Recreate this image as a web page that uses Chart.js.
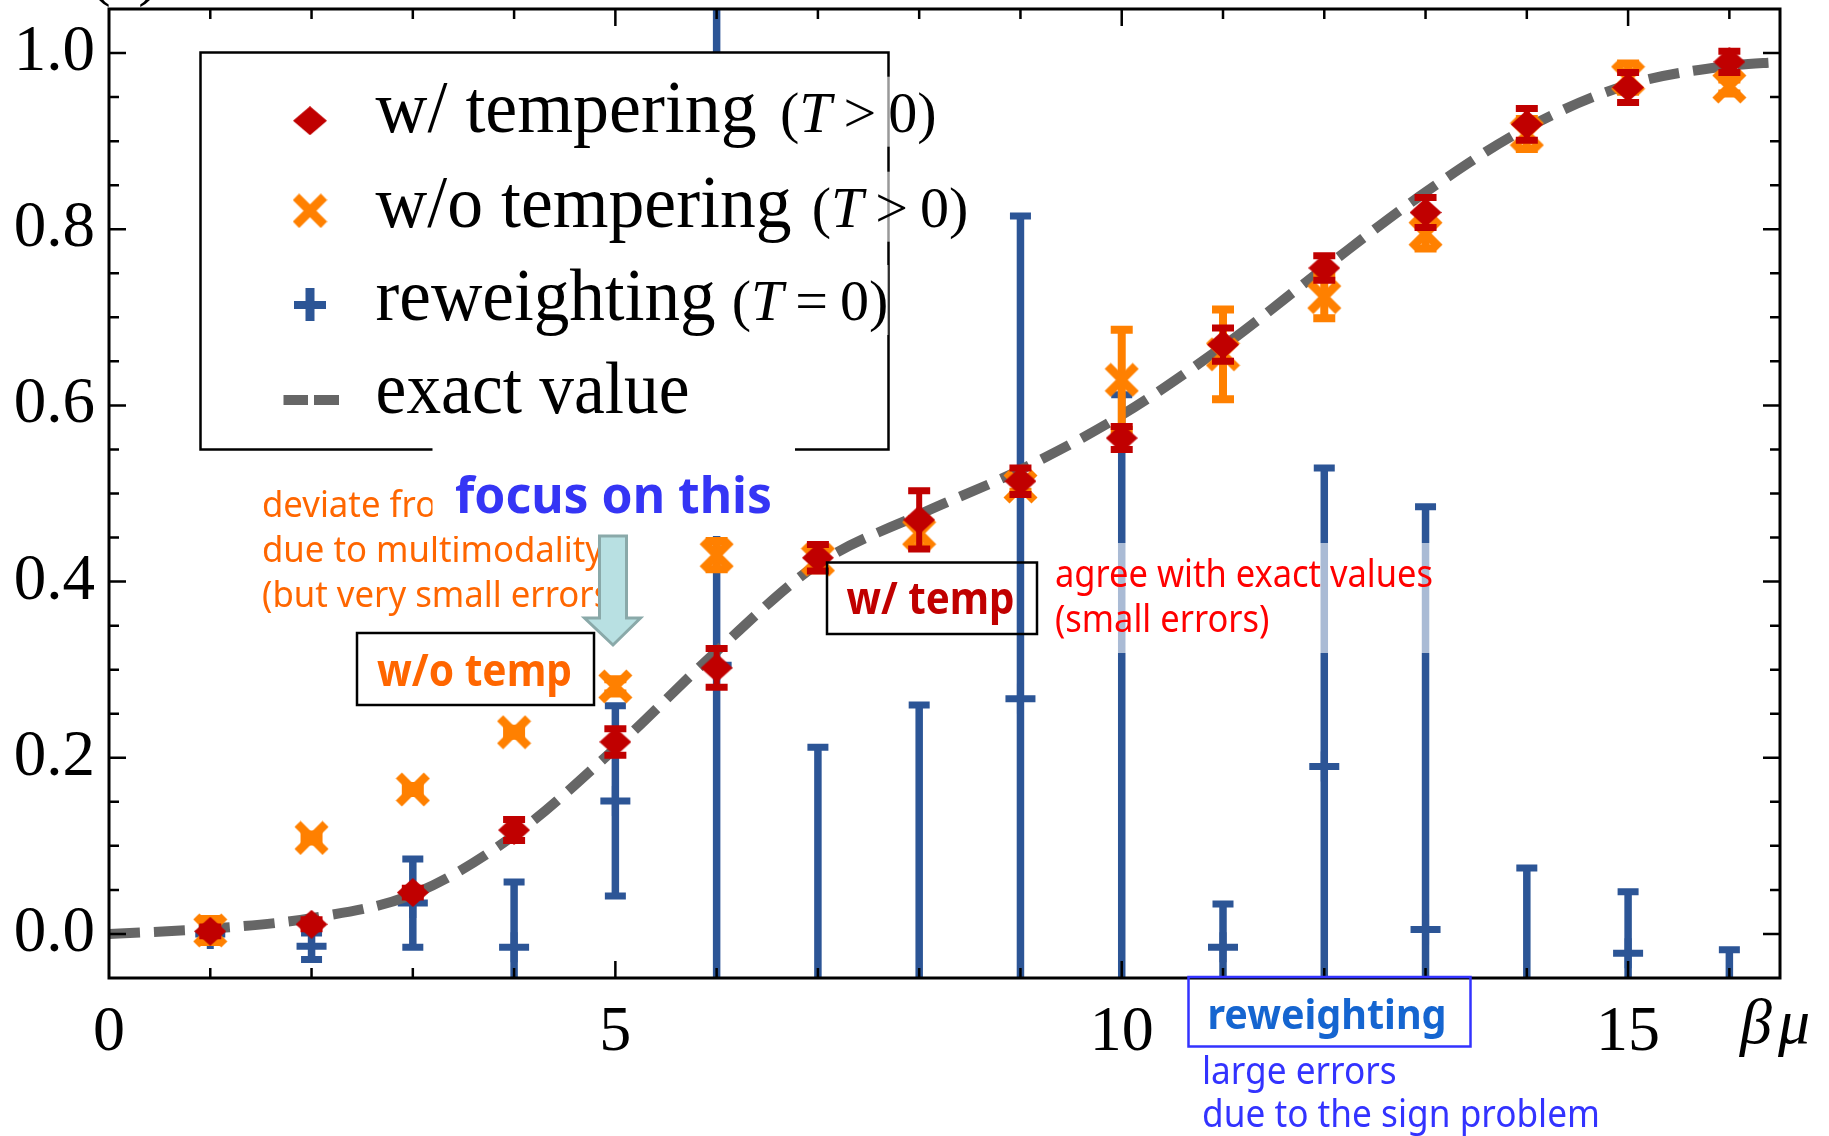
<!DOCTYPE html>
<html>
<head>
<meta charset="utf-8">
<title>Sign-problem benchmark</title>
<script src="https://cdn.jsdelivr.net/npm/chart.js@4.4.1/dist/chart.umd.min.js"></script>
<style>
  html, body { margin: 0; padding: 0; background: #ffffff; overflow: hidden; }
  #wrap { position: relative; width: 1829px; height: 1136px; }
</style>
</head>
<body>
<div id="wrap"><canvas id="chart" width="1829" height="1136"></canvas></div>
<script>
// ---- data -------------------------------------------------------------
const betaMu = [1, 2, 3, 4, 5, 6, 7, 8, 9, 10, 11, 12, 13, 14, 15, 16];

const withTempering    = [0.003, 0.011, 0.047, 0.118, 0.218, 0.302, 0.427, 0.470, 0.514, 0.563, 0.669, 0.756, 0.819, 0.919, 0.961, 0.990];
const withTemperingErr = [0.005, 0.005, 0.005, 0.012, 0.015, 0.022, 0.015, 0.033, 0.015, 0.013, 0.019, 0.014, 0.017, 0.018, 0.017, 0.012];

const withoutTempering    = [0.004, 0.109, 0.164, 0.229, 0.281, 0.430, 0.425, 0.455, 0.508, 0.629, 0.658, 0.723, 0.795, 0.908, 0.972, 0.962];
const withoutTemperingErr = [0.013, 0.004, 0.004, 0.004, 0.008, 0.016, 0.012, 0.016, 0.006, 0.057, 0.051, 0.024, 0.017, 0.017, 0.016, 0.008];

const reweighting    = [0.000, -0.014, 0.035, -0.015, 0.151, 0.305, -0.120, -0.100, 0.267, -0.200, -0.015, 0.190, 0.005, -0.080, -0.022, -0.070];
const reweightingErr = [0.008, 0.015, 0.050, 0.074, 0.108, 0.800, 0.332, 0.360, 0.548, 0.812, 0.049, 0.339, 0.480, 0.155, 0.070, 0.052];

const exactBetaMu = [0, 1, 2, 3, 4, 5, 6, 7, 8, 9, 10, 11, 12, 13, 14, 15, 16, 16.5];
const exactValue  = [0.000, 0.006, 0.018, 0.045, 0.112, 0.211, 0.321, 0.420, 0.476, 0.527, 0.589, 0.667, 0.756, 0.842, 0.915, 0.964, 0.9855, 0.990];

const xTickValues = [0, 5, 10, 15];
const yTickValues = [0.0, 0.2, 0.4, 0.6, 0.8, 1.0];

const legendLabels = ['w/ tempering', 'w/o tempering', 'reweighting', 'exact value'];
const legendConditions = ['>', '>', '=', null];

// ---- colours ------------------------------------------------------------
const RED = '#c00000';
const ORANGE = '#ff8000';
const BLUE = '#2c5596';
const GREY = '#666666';

const SERIF = '"Liberation Serif", "DejaVu Serif", serif';
const SANS = '"Noto Sans", "Open Sans", sans-serif';

// ---- marker sprites -----------------------------------------------------
function diamondSprite(w, h, color) {
  const c = document.createElement('canvas');
  c.width = w; c.height = h;
  const g = c.getContext('2d');
  g.fillStyle = color;
  g.beginPath();
  g.moveTo(w / 2, 0); g.lineTo(w, h / 2); g.lineTo(w / 2, h); g.lineTo(0, h / 2);
  g.closePath(); g.fill();
  return c;
}
function crossSprite(size, thick, color) {
  const c = document.createElement('canvas');
  c.width = size; c.height = size;
  const g = c.getContext('2d');
  g.strokeStyle = color; g.lineWidth = thick; g.lineCap = 'butt';
  const a = 3.5, b = size - 3.5;
  g.beginPath();
  g.moveTo(a, a); g.lineTo(b, b);
  g.moveTo(b, a); g.lineTo(a, b);
  g.stroke();
  return c;
}
const diamondImg = diamondSprite(32, 29, RED);
const crossImg = crossSprite(35, 8.5, ORANGE);

const toPoints = (xs, ys) => xs.map((x, i) => ({ x: x, y: ys[i] }));

// ---- error bars, drawn just before each dataset's markers ---------------
const errorBars = {
  id: 'errorBars',
  beforeDatasetDraw(chart, args) {
    const ds = chart.data.datasets[args.index];
    if (!ds.errors) return;
    const ctx = chart.ctx, area = chart.chartArea, y = chart.scales.y;
    ctx.save();
    ctx.beginPath();
    ctx.rect(area.left, area.top, area.right - area.left, area.bottom - area.top);
    ctx.clip();
    ctx.strokeStyle = ds.errorColor;
    ctx.lineCap = 'butt';
    args.meta.data.forEach((pt, i) => {
      const v = ds.data[i].y, e = ds.errors[i];
      const top = y.getPixelForValue(v + e), bot = y.getPixelForValue(v - e);
      ctx.lineWidth = ds.errorLineWidth;
      ctx.beginPath(); ctx.moveTo(pt.x, top); ctx.lineTo(pt.x, bot); ctx.stroke();
      ctx.lineWidth = ds.capThickness;
      ctx.beginPath();
      ctx.moveTo(pt.x - ds.capHalfWidth, top); ctx.lineTo(pt.x + ds.capHalfWidth, top);
      ctx.moveTo(pt.x - ds.capHalfWidth, bot); ctx.lineTo(pt.x + ds.capHalfWidth, bot);
      ctx.stroke();
    });
    ctx.restore();
  }
};

// ---- frame with inward ticks on all four sides --------------------------
const frame = {
  id: 'frame',
  afterDatasetsDraw(chart) {
    const ctx = chart.ctx, a = chart.chartArea, xs = chart.scales.x, ys = chart.scales.y;
    ctx.save();
    ctx.strokeStyle = '#000';
    ctx.lineWidth = 2.5;
    ctx.beginPath();
    for (let v = 1; v <= 16; v++) {
      const px = xs.getPixelForValue(v);
      const len = v % 5 === 0 ? 17 : 10;
      ctx.moveTo(px, a.bottom); ctx.lineTo(px, a.bottom - len);
      ctx.moveTo(px, a.top); ctx.lineTo(px, a.top + len);
    }
    for (let k = 0; k <= 20; k++) {
      const py = ys.getPixelForValue(k * 0.05);
      const len = k % 4 === 0 ? 17 : 10;
      ctx.moveTo(a.left, py); ctx.lineTo(a.left + len, py);
      ctx.moveTo(a.right, py); ctx.lineTo(a.right - len, py);
    }
    ctx.stroke();
    ctx.lineWidth = 3;
    ctx.strokeRect(a.left, a.top, a.right - a.left, a.bottom - a.top);
    ctx.restore();
  }
};

// ---- text helpers -------------------------------------------------------
function textScaled(ctx, text, x, y, font, color, sx) {
  ctx.save();
  ctx.font = font; ctx.fillStyle = color;
  ctx.textAlign = 'left'; ctx.textBaseline = 'alphabetic';
  ctx.translate(x, y); ctx.scale(sx, 1);
  ctx.fillText(text, 0, 0);
  ctx.restore();
}
function scaleFor(ctx, text, font, width) {
  ctx.save(); ctx.font = font;
  const w = ctx.measureText(text).width;
  ctx.restore();
  return width / w;
}
function textFit(ctx, text, x, y, font, color, width) {
  textScaled(ctx, text, x, y, font, color, scaleFor(ctx, text, font, width));
}

// "(T > 0)" style condition drawn after a legend label
function drawCondition(ctx, x, y, rel) {
  const size = 58;
  const up = size + 'px ' + SERIF, it = 'italic ' + size + 'px ' + SERIF;
  ctx.save();
  ctx.fillStyle = '#000'; ctx.textBaseline = 'alphabetic'; ctx.textAlign = 'left';
  let cx = x;
  ctx.font = up; ctx.fillText('(', cx, y); cx += ctx.measureText('(').width;
  ctx.font = it; ctx.fillText('T', cx, y); cx += ctx.measureText('T').width + 12;
  ctx.font = up; ctx.fillText(rel, cx, y); cx += ctx.measureText(rel).width + 12;
  ctx.fillText('0)', cx, y); cx += ctx.measureText('0)').width;
  ctx.restore();
  return cx;
}
function conditionWidth(ctx, rel) {
  const size = 58;
  ctx.save();
  ctx.font = size + 'px ' + SERIF;
  let w = ctx.measureText('(').width + ctx.measureText(rel).width + ctx.measureText('0)').width + 24;
  ctx.font = 'italic ' + size + 'px ' + SERIF;
  w += ctx.measureText('T').width;
  ctx.restore();
  return w;
}

// ---- legend and slide annotations ---------------------------------------
const overlay = {
  id: 'overlay',
  afterDraw(chart) {
    const ctx = chart.ctx;
    ctx.save();

    // panel label at the very top
    ctx.font = '62px ' + SERIF; ctx.fillStyle = '#000'; ctx.textBaseline = 'alphabetic';
    ctx.fillText('(a)', 90, -6);

    // translucent backing of the green-light comment
    ctx.fillStyle = 'rgba(255,255,255,0.6)';
    ctx.fillRect(1048, 543, 392, 110);

    // legend box
    const L = { left: 200.5, top: 52.5, right: 888.5, bottom: 449.5 };
    ctx.fillStyle = '#fff';
    ctx.fillRect(L.left, L.top, L.right - L.left, L.bottom - L.top);
    ctx.strokeStyle = '#000'; ctx.lineWidth = 2.5;
    ctx.strokeRect(L.left, L.top, L.right - L.left, L.bottom - L.top);

    const baselines = [131.7, 226.7, 320, 413.3];
    const markerY = [120.7, 210.8, 305, 400];
    const mx = 310;
    ctx.drawImage(diamondSprite(34, 29, RED), mx - 17, markerY[0] - 14.5);
    ctx.drawImage(crossSprite(35, 9, ORANGE), mx - 17.5, markerY[1] - 17.5);
    ctx.strokeStyle = BLUE; ctx.lineCap = 'butt';
    ctx.lineWidth = 8;
    ctx.beginPath(); ctx.moveTo(mx - 16, markerY[2]); ctx.lineTo(mx + 16, markerY[2]); ctx.stroke();
    ctx.lineWidth = 9;
    ctx.beginPath(); ctx.moveTo(mx, markerY[2] - 17); ctx.lineTo(mx, markerY[2] + 16); ctx.stroke();
    ctx.strokeStyle = GREY; ctx.lineWidth = 10;
    ctx.beginPath();
    ctx.moveTo(283.5, markerY[3]); ctx.lineTo(308, markerY[3]);
    ctx.moveTo(314, markerY[3]); ctx.lineTo(339, markerY[3]);
    ctx.stroke();

    const labelWidths = [381, 416, 340, 314];
    const conditionStart = [780, 811.7, 731.7];
    legendLabels.forEach((label, i) => {
      textFit(ctx, label, 375.6, baselines[i], '73px ' + SERIF, '#000', labelWidths[i]);
      if (legendConditions[i]) {
        const start = conditionStart[i];
        const w = conditionWidth(ctx, legendConditions[i]);
        // soften the box edge where the text runs across it
        ctx.fillStyle = 'rgba(255,255,255,0.6)';
        ctx.fillRect(start, baselines[i] - 55, w, 70);
        drawCondition(ctx, start, baselines[i], legendConditions[i]);
      }
    });

    // orange comment, partly hidden under the title box and arrow
    const oFont = '37px ' + SANS;
    const oScale = scaleFor(ctx, 'due to multimodality', oFont, 341);
    textScaled(ctx, 'deviate from exact values', 262, 517, oFont, '#ff6600', oScale);
    textScaled(ctx, 'due to multimodality', 262, 562, oFont, '#ff6600', oScale);
    textScaled(ctx, '(but very small errors)', 262, 606.5, oFont, '#ff6600', oScale);

    // title box
    ctx.fillStyle = '#fff';
    ctx.fillRect(432.5, 444, 362.5, 92);
    textFit(ctx, 'focus on this', 455, 512.5, 'bold 51px ' + SANS, '#3535f5', 317);

    // arrow
    ctx.beginPath();
    ctx.moveTo(599.5, 536); ctx.lineTo(626.5, 536); ctx.lineTo(626.5, 618);
    ctx.lineTo(640.5, 618); ctx.lineTo(613, 645); ctx.lineTo(584.5, 618);
    ctx.lineTo(599.5, 618); ctx.closePath();
    ctx.fillStyle = '#b8e0e2'; ctx.fill();
    ctx.strokeStyle = '#8aa9a9'; ctx.lineWidth = 3; ctx.lineJoin = 'miter'; ctx.stroke();

    // boxed tags
    ctx.strokeStyle = '#000'; ctx.lineWidth = 2.5;
    ctx.strokeRect(357, 633, 237, 72);
    textFit(ctx, 'w/o temp', 377, 686, 'bold 45px ' + SANS, '#ff6600', 195);
    ctx.strokeRect(827, 562.5, 210, 71.5);
    textFit(ctx, 'w/ temp', 846.5, 613.5, 'bold 44px ' + SANS, RED, 168);

    ctx.strokeStyle = '#3333ff'; ctx.lineWidth = 2.5;
    ctx.strokeRect(1188.5, 977, 282, 69.5);
    textFit(ctx, 'reweighting', 1207.5, 1028.5, 'bold 42px ' + SANS, '#1565d0', 239);

    // plain comments
    const rFont = '38px ' + SANS;
    const rScale = scaleFor(ctx, 'agree with exact values', rFont, 378);
    textScaled(ctx, 'agree with exact values', 1055, 587, rFont, '#ff0000', rScale);
    textScaled(ctx, '(small errors)', 1055, 631.5, rFont, '#ff0000', rScale);

    const bScale = scaleFor(ctx, 'due to the sign problem', rFont, 398);
    textScaled(ctx, 'large errors', 1202, 1084, rFont, '#3333ff', bScale);
    textScaled(ctx, 'due to the sign problem', 1202, 1127, rFont, '#3333ff', bScale);

    // axis symbol
    ctx.fillStyle = '#000'; ctx.font = 'italic 64px ' + SERIF; ctx.textAlign = 'left';
    ctx.fillText('\u03b2', 1740, 1043);
    const bw = ctx.measureText('\u03b2').width;
    ctx.fillText('\u03bc', 1740 + bw + 6, 1043);

    ctx.restore();
  }
};

// ---- chart --------------------------------------------------------------
function build() {
  const ctx = document.getElementById('chart').getContext('2d');
  new Chart(ctx, {
    type: 'scatter',
    data: {
      datasets: [
        {
          label: 'w/ tempering (T > 0)',
          data: toPoints(betaMu, withTempering),
          errors: withTemperingErr,
          errorColor: RED, errorLineWidth: 6, capThickness: 7, capHalfWidth: 11,
          pointStyle: diamondImg, pointRadius: 15,
          backgroundColor: RED, borderColor: RED
        },
        {
          label: 'w/o tempering (T > 0)',
          data: toPoints(betaMu, withoutTempering),
          errors: withoutTemperingErr,
          errorColor: ORANGE, errorLineWidth: 8, capThickness: 8, capHalfWidth: 11,
          pointStyle: crossImg, pointRadius: 16,
          backgroundColor: ORANGE, borderColor: ORANGE
        },
        {
          label: 'exact value',
          data: toPoints(exactBetaMu, exactValue),
          showLine: true,
          cubicInterpolationMode: 'monotone',
          borderColor: GREY, borderWidth: 10, borderDash: [31, 14], borderCapStyle: 'butt',
          pointRadius: 0, fill: false
        },
        {
          label: 'reweighting (T = 0)',
          data: toPoints(betaMu, reweighting),
          errors: reweightingErr,
          errorColor: BLUE, errorLineWidth: 7.5, capThickness: 7, capHalfWidth: 10.5,
          pointStyle: 'cross', pointRadius: 15, pointBorderWidth: 7,
          borderColor: BLUE, backgroundColor: BLUE
        }
      ]
    },
    options: {
      responsive: false,
      animation: false,
      devicePixelRatio: 1,
      events: [],
      layout: { autoPadding: false, padding: { left: 0, top: 9, right: 49, bottom: 0 } },
      plugins: { legend: { display: false }, tooltip: { enabled: false } },
      scales: {
        x: {
          type: 'linear', min: 0, max: 16.5,
          grid: { display: false }, border: { display: false },
          afterFit(scale) {
            scale.height = 158;
            scale.paddingLeft = 0; scale.paddingRight = 0;
          },
          afterBuildTicks(scale) { scale.ticks = xTickValues.map(v => ({ value: v })); },
          ticks: {
            color: '#000', padding: 9,
            font: { family: 'Liberation Serif', size: 64 },
            maxRotation: 0, autoSkip: false,
            callback: v => String(v)
          }
        },
        y: {
          type: 'linear', min: -0.05, max: 1.05,
          grid: { display: false }, border: { display: false },
          afterFit(scale) {
            scale.width = 109;
            scale.paddingTop = 0; scale.paddingBottom = 0;
          },
          afterBuildTicks(scale) { scale.ticks = yTickValues.map(v => ({ value: v })); },
          ticks: {
            color: '#000', padding: 6,
            font: { family: 'Liberation Serif', size: 65 },
            autoSkip: false,
            callback: v => Number(v).toFixed(1)
          }
        }
      }
    },
    plugins: [errorBars, frame, overlay]
  });
}

const fontLoads = [
  '62px "Liberation Serif"', 'italic 62px "Liberation Serif"',
  '37px "Noto Sans"', 'bold 45px "Noto Sans"'
].map(f => document.fonts.load(f));
Promise.all(fontLoads).then(build, build);
</script>
</body>
</html>
